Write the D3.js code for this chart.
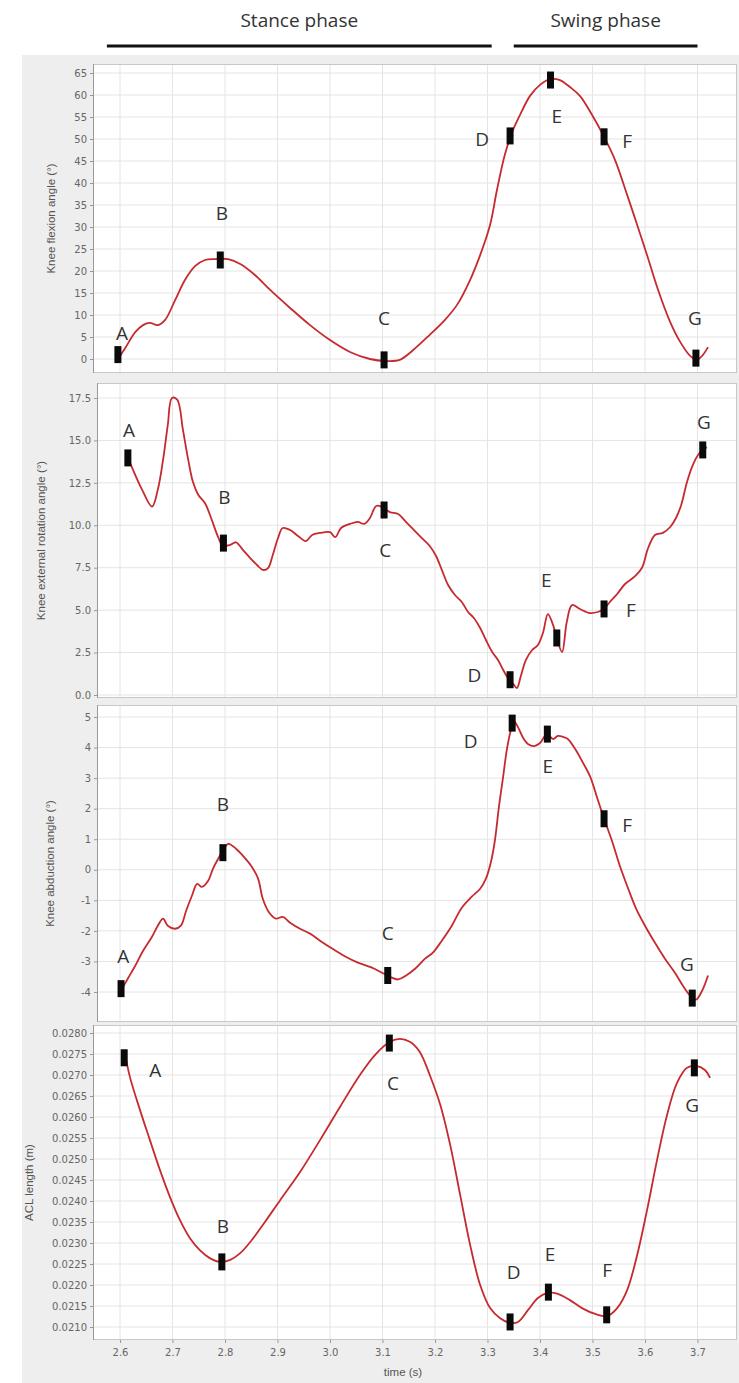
<!DOCTYPE html>
<html><head><meta charset="utf-8">
<script src="https://cdn.jsdelivr.net/npm/d3@7"></script>
<style>body{margin:0;background:#fff}svg{display:block}</style>
</head><body><svg id="c" width="739" height="1383"></svg>
<script>
// ---------- DATA ----------
const xTicks = [2.6,2.7,2.8,2.9,3.0,3.1,3.2,3.3,3.4,3.5,3.6,3.7];
const markerLetters = ["A","B","C","D","E","F","G"];

// Panel 1: knee flexion angle
const flexT = [2.594,2.610,2.629,2.644,2.657,2.672,2.686,2.705,2.724,2.743,2.762,2.781,2.806,2.829,2.857,2.886,2.924,2.962,3.000,3.038,3.076,3.105,3.133,3.158,3.190,3.219,3.242,3.267,3.286,3.305,3.318,3.333,3.347,3.362,3.381,3.400,3.419,3.438,3.457,3.476,3.499,3.522,3.543,3.566,3.585,3.604,3.625,3.648,3.667,3.686,3.699,3.710,3.720];
const flexV = [-0.45,2.5,6.1,7.7,8.2,7.7,8.9,13.4,18.0,21.1,22.5,22.7,22.7,21.6,19.1,15.7,11.6,7.7,4.3,1.6,0.0,-0.45,-0.2,2.0,5.5,8.9,12.3,18.0,23.6,30.5,38.4,46.4,51.6,55.5,59.8,62.3,63.6,63.4,61.8,59.8,55.5,50.5,45.2,37.3,30.5,23.6,15.7,8.4,3.9,0.7,-0.2,0.9,2.7];
const flexMarkT = [2.596,2.791,3.103,3.343,3.420,3.522,3.697];
const flexMarkV = [1.0,22.5,-0.2,50.7,63.4,50.5,0.2];
const flexLabT = [2.604,2.794,3.103,3.290,3.432,3.566,3.695];
const flexLabV = [5.8,33.2,9.3,50.0,55.2,49.5,9.3];
const flexTicks = [0,5,10,15,20,25,30,35,40,45,50,55,60,65];

// Panel 2: knee external rotation angle
const rotT = [2.615,2.623,2.642,2.661,2.672,2.682,2.691,2.699,2.709,2.720,2.730,2.739,2.749,2.762,2.775,2.787,2.796,2.810,2.821,2.834,2.848,2.861,2.872,2.882,2.891,2.901,2.910,2.924,2.939,2.954,2.966,2.981,3.000,3.010,3.021,3.038,3.053,3.065,3.076,3.088,3.099,3.114,3.130,3.145,3.160,3.175,3.190,3.202,3.213,3.225,3.238,3.251,3.263,3.274,3.286,3.297,3.309,3.320,3.330,3.339,3.349,3.356,3.364,3.373,3.385,3.396,3.406,3.415,3.425,3.432,3.442,3.451,3.461,3.476,3.495,3.510,3.522,3.533,3.547,3.562,3.581,3.594,3.606,3.619,3.634,3.648,3.659,3.669,3.680,3.691,3.701,3.710,3.718];
const rotV = [14.0,13.4,12.1,11.1,12.1,13.85,15.9,17.5,17.4,15.6,13.85,12.55,11.8,11.3,10.3,9.3,8.8,8.84,9.0,8.55,8.07,7.66,7.37,7.48,8.25,9.25,9.84,9.72,9.37,9.07,9.43,9.55,9.6,9.3,9.84,10.08,10.2,10.08,10.43,11.14,11.08,10.78,10.67,10.19,9.72,9.25,8.78,8.19,7.37,6.48,5.89,5.48,4.89,4.54,3.95,3.24,2.53,2.06,1.47,1.0,0.65,0.41,1.18,2.06,2.65,2.95,3.7,4.77,4.12,3.36,2.53,4.3,5.3,5.07,4.83,4.89,5.07,5.48,5.95,6.54,7.0,7.48,8.66,9.43,9.55,9.9,10.43,11.2,12.55,13.55,14.14,14.44,14.6];
const rotMarkT = [2.615,2.797,3.103,3.343,3.432,3.522,3.710];
const rotMarkV = [13.97,8.95,10.9,0.9,3.36,5.07,14.44];
const rotLabT = [2.617,2.799,3.105,3.275,3.412,3.573,3.712];
const rotLabV = [15.6,11.67,8.54,1.18,6.78,5.0,16.1];
const rotTicks = [0,2.5,5,7.5,10,12.5,15,17.5];

// Panel 3: knee abduction angle
const abdT = [2.602,2.615,2.629,2.644,2.661,2.672,2.682,2.691,2.705,2.716,2.726,2.737,2.747,2.756,2.768,2.777,2.787,2.796,2.806,2.821,2.836,2.851,2.863,2.872,2.884,2.897,2.910,2.924,2.943,2.962,2.981,3.004,3.029,3.053,3.080,3.099,3.114,3.130,3.145,3.162,3.181,3.196,3.213,3.232,3.251,3.270,3.286,3.297,3.307,3.314,3.322,3.330,3.337,3.345,3.350,3.358,3.368,3.377,3.389,3.400,3.413,3.425,3.434,3.444,3.453,3.467,3.480,3.495,3.509,3.522,3.537,3.552,3.568,3.583,3.600,3.619,3.638,3.657,3.672,3.686,3.697,3.709,3.720];
const abdV = [-3.95,-3.56,-3.14,-2.65,-2.19,-1.83,-1.6,-1.83,-1.93,-1.83,-1.34,-0.85,-0.46,-0.56,-0.36,0.03,0.36,0.62,0.85,0.69,0.42,0.1,-0.29,-0.95,-1.4,-1.6,-1.54,-1.73,-1.93,-2.09,-2.32,-2.58,-2.84,-3.04,-3.2,-3.37,-3.5,-3.59,-3.46,-3.24,-2.91,-2.71,-2.32,-1.83,-1.24,-0.88,-0.62,-0.29,0.29,0.95,2.09,3.07,3.95,4.61,4.87,4.67,4.31,4.12,4.05,4.15,4.44,4.28,4.38,4.35,4.28,3.95,3.56,3.07,2.35,1.67,0.95,0.13,-0.62,-1.27,-1.83,-2.39,-2.91,-3.37,-3.79,-4.12,-4.25,-3.95,-3.46];
const abdMarkT = [2.602,2.796,3.110,3.347,3.414,3.522,3.690];
const abdMarkV = [-3.89,0.56,-3.46,4.8,4.44,1.67,-4.2];
const abdLabT = [2.606,2.796,3.110,3.268,3.415,3.566,3.680];
const abdLabV = [-2.81,2.16,-2.06,4.22,3.40,1.47,-3.07];
const abdTicks = [-4,-3,-2,-1,0,1,2,3,4,5];

// Panel 4: ACL length
const aclT = [2.608,2.619,2.638,2.657,2.676,2.695,2.714,2.733,2.752,2.771,2.790,2.810,2.829,2.851,2.876,2.905,2.943,2.981,3.019,3.057,3.086,3.114,3.133,3.152,3.171,3.190,3.210,3.229,3.248,3.267,3.286,3.305,3.324,3.343,3.358,3.377,3.396,3.415,3.434,3.457,3.480,3.505,3.528,3.547,3.566,3.585,3.604,3.623,3.642,3.661,3.680,3.699,3.714,3.724];
const aclV = [0.02760,0.02695,0.02617,0.02545,0.02474,0.02410,0.02355,0.02312,0.02283,0.02264,0.02255,0.02260,0.02276,0.02307,0.02350,0.02402,0.02469,0.02545,0.02624,0.02700,0.02748,0.02779,0.02786,0.02779,0.02755,0.02700,0.02629,0.02533,0.02414,0.02295,0.02200,0.02145,0.02121,0.02110,0.02112,0.02140,0.02169,0.02181,0.02179,0.02164,0.02145,0.02131,0.02126,0.02145,0.02188,0.02271,0.02379,0.02498,0.02605,0.02681,0.02717,0.02721,0.02712,0.02693];
const aclMarkT = [2.608,2.794,3.113,3.343,3.416,3.527,3.694];
const aclMarkV = [0.02741,0.02255,0.02776,0.02112,0.02183,0.02129,0.02717];
const aclLabT = [2.667,2.796,3.120,3.350,3.419,3.528,3.690];
const aclLabV = [0.02712,0.02340,0.02681,0.02231,0.02274,0.02236,0.02629];
const aclTicks = [0.0210,0.0215,0.0220,0.0225,0.0230,0.0235,0.0240,0.0245,0.0250,0.0255,0.0260,0.0265,0.0270,0.0275,0.0280];

const phaseNames = ["Stance phase","Swing phase"];
const phaseStart = [2.575,3.35];
const phaseEnd = [3.308,3.70];

// ---------- LAYOUT ----------
const svg = d3.select("#c");
const W = 739, H = 1383;
const plotRight = 737;
const x = d3.scaleLinear().domain([2.6,3.7]).range([120,697.5]);

svg.append("rect").attr("x",0).attr("y",0).attr("width",W).attr("height",H).attr("fill","#fff");
svg.append("rect").attr("x",22).attr("y",55).attr("width",W-22).attr("height",H-55).attr("fill","#eeeeee");

// header phases
phaseNames.forEach((n,i)=>{
  const x0 = x(phaseStart[i]), x1 = x(phaseEnd[i]);
  svg.append("line").attr("x1",x0).attr("x2",x1).attr("y1",46).attr("y2",46)
    .attr("stroke","#111").attr("stroke-width",3);
  svg.append("text").attr("x",(x0+x1)/2).attr("y",27).attr("text-anchor","middle")
    .attr("font-family","Open Sans, sans-serif").attr("font-size",19).attr("fill","#333").text(n);
});

const panels = [
  {t:flexT,v:flexV,mt:flexMarkT,mv:flexMarkV,lt:flexLabT,lv:flexLabV,ticks:flexTicks,fmt:d=>d3.format("d")(d),
   title:"Knee flexion angle (°)",left:93,top:64,bottom:373,dom:[0,65],rng:[359,73],titleX:55},
  {t:rotT,v:rotV,mt:rotMarkT,mv:rotMarkV,lt:rotLabT,lv:rotLabV,ticks:rotTicks,fmt:d=>d.toFixed(1),
   title:"Knee external rotation angle (°)",left:97,top:383,bottom:698,dom:[0,17.5],rng:[695,398],titleX:45},
  {t:abdT,v:abdV,mt:abdMarkT,mv:abdMarkV,lt:abdLabT,lv:abdLabV,ticks:abdTicks,fmt:d=>String(d),
   title:"Knee abduction angle (°)",left:97,top:705,bottom:1022,dom:[-4,5],rng:[992,717],titleX:54},
  {t:aclT,v:aclV,mt:aclMarkT,mv:aclMarkV,lt:aclLabT,lv:aclLabV,ticks:aclTicks,fmt:d=>d.toFixed(4),
   title:"ACL length (m)",left:93,top:1025,bottom:1340,dom:[0.021,0.028],rng:[1327,1033],titleX:33}
];

panels.forEach((p,pi)=>{
  const y = d3.scaleLinear().domain(p.dom).range(p.rng);
  const g = svg.append("g");
  const cid = "clip"+pi;
  svg.append("clipPath").attr("id",cid).append("rect")
    .attr("x",p.left).attr("y",p.top).attr("width",plotRight-p.left).attr("height",p.bottom-p.top);
  g.append("rect").attr("x",p.left).attr("y",p.top).attr("width",plotRight-p.left).attr("height",p.bottom-p.top)
    .attr("fill","#fff");
  const grid = g.append("g").attr("clip-path",`url(#${cid})`);
  grid.selectAll(".vg").data(xTicks).join("line")
    .attr("x1",d=>x(d)).attr("x2",d=>x(d)).attr("y1",p.top).attr("y2",p.bottom)
    .attr("stroke","#e4e4e4").attr("stroke-width",1);
  grid.selectAll(".hg").data(p.ticks).join("line")
    .attr("x1",p.left).attr("x2",plotRight).attr("y1",d=>y(d)).attr("y2",d=>y(d))
    .attr("stroke","#e4e4e4").attr("stroke-width",1);
  g.append("rect").attr("x",p.left+0.5).attr("y",p.top+0.5).attr("width",plotRight-p.left-1).attr("height",p.bottom-p.top-1)
    .attr("fill","none").attr("stroke","#c8c8c8");
  const ax = g.append("g").attr("transform",`translate(${p.left},0)`)
    .call(d3.axisLeft(y).tickValues(p.ticks).tickFormat(p.fmt).tickSize(3).tickPadding(3));
  ax.select(".domain").attr("stroke","#999").attr("d",`M0.5,${p.top}V${p.bottom}`);
  ax.selectAll(".tick line").attr("stroke","#999");
  ax.selectAll("text").attr("fill","#666").attr("font-size",10).attr("font-family","DejaVu Sans, sans-serif");
  g.append("text").attr("transform",`translate(${p.titleX},${(p.top+p.bottom)/2}) rotate(-90)`)
    .attr("text-anchor","middle").attr("font-size",11.5).attr("fill","#555")
    .attr("font-family","Liberation Sans, Arial, sans-serif").text(p.title);
  const pts = p.t.map((t,i)=>[t,p.v[i]]);
  g.append("path").attr("clip-path",`url(#${cid})`).datum(pts)
    .attr("d",d3.line().x(d=>x(d[0])).y(d=>y(d[1])).curve(d3.curveCatmullRom.alpha(0.5)))
    .attr("fill","none").attr("stroke","#c62a2f").attr("stroke-width",1.8);
  g.selectAll(".mk").data(p.mt).join("rect")
    .attr("x",(d)=>x(d)-3.5).attr("y",(d,i)=>y(p.mv[i])-8.5).attr("width",7).attr("height",17)
    .attr("fill","#0a0a0a");
  g.selectAll(".lb").data(p.lt).join("text")
    .attr("x",d=>x(d)).attr("y",(d,i)=>y(p.lv[i]))
    .attr("text-anchor","middle").attr("dominant-baseline","central")
    .attr("font-family","Open Sans, sans-serif").attr("font-size",19).attr("fill","#333")
    .text((d,i)=>markerLetters[i]);
});

const last = panels[3];
const xa = svg.append("g").attr("transform",`translate(0,${last.bottom})`)
  .call(d3.axisBottom(x).tickValues(xTicks).tickFormat(d=>d.toFixed(1)).tickSize(3).tickPadding(6));
xa.select(".domain").remove();
xa.selectAll(".tick line").attr("stroke","#999");
xa.selectAll("text").attr("fill","#666").attr("font-size",10).attr("font-family","DejaVu Sans, sans-serif");
svg.append("text").attr("x",403).attr("y",1376).attr("text-anchor","middle")
  .attr("font-size",11.5).attr("fill","#555").attr("font-family","Liberation Sans, Arial, sans-serif").text("time (s)");
</script>
</body></html>
